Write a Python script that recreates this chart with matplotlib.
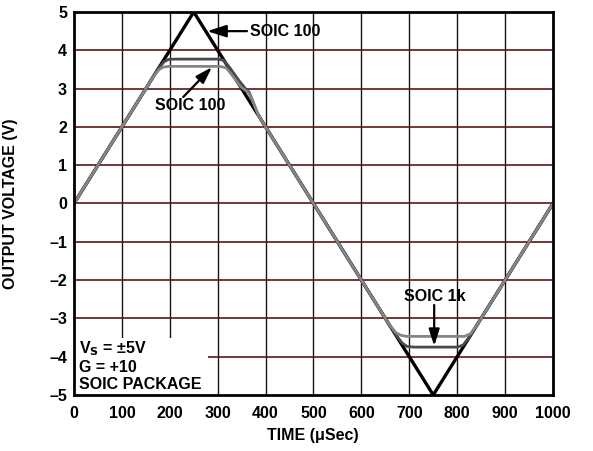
import matplotlib
matplotlib.use("Agg")
import matplotlib.pyplot as plt
from matplotlib.patches import Rectangle

plt.rcParams['font.family'] = ['Liberation Sans', 'DejaVu Sans']
plt.rcParams['font.weight'] = 'bold'

# Ideal (unclipped) triangle output
tri_t = [0, 250, 750, 1000]
tri_v = [0, 5, -5, 0]

# Output with heavier load: clips near +3.77 V / -3.75 V
soic_a_t = [0, 170, 180, 188, 197, 210, 300, 312, 325, 345, 358, 362, 366, 371, 385,
            615, 660, 675, 685, 695, 710, 800, 812, 825, 840, 852, 1000]
soic_a_v = [0, 3.40, 3.58, 3.70, 3.76, 3.77, 3.77, 3.74, 3.55, 3.20, 3.00, 2.95, 2.90, 2.74, 2.30,
            -2.30, -3.20, -3.48, -3.64, -3.73, -3.75, -3.75, -3.70, -3.50, -3.20, -2.96, 0]

# Output with lighter load: clips near +3.58 V / -3.47 V
soic_b_t = [0, 160, 170, 178, 186, 198, 305, 318, 330, 348, 358, 362, 366, 371, 385,
            615, 650, 662, 672, 682, 695, 815, 828, 840, 852, 1000]
soic_b_v = [0, 3.20, 3.38, 3.50, 3.56, 3.58, 3.58, 3.54, 3.35, 3.05, 2.95, 2.92, 2.86, 2.74, 2.30,
            -2.30, -3.00, -3.22, -3.37, -3.44, -3.47, -3.47, -3.40, -3.20, -2.96, 0]

x_ticks = [0, 100, 200, 300, 400, 500, 600, 700, 800, 900, 1000]
y_ticks = [5, 4, 3, 2, 1, 0, -1, -2, -3, -4, -5]

fig = plt.figure(figsize=(5.93, 4.51), dpi=100)
ax = fig.add_axes([0.1248, 0.1242, 0.8077, 0.8492])
ax.set_xlim(0, 1000)
ax.set_ylim(-5, 5)

# grid: black verticals, dark red horizontals
for x in x_ticks[1:-1]:
    ax.axvline(x, color='#1a1010', lw=1.0, zorder=1)
for y in y_ticks[1:-1]:
    ax.axhline(y, color='#5c1414', lw=1.2, zorder=1)

ax.plot(tri_t, tri_v, color='black', lw=2.4, zorder=3, solid_joinstyle='miter')
ax.plot(soic_a_t, soic_a_v, color='#4a4a4a', lw=2.0, zorder=4)
ax.plot(soic_b_t, soic_b_v, color='#858585', lw=2.0, zorder=4)

# condition legend box
ax.add_patch(Rectangle((0, -5), 280, 1.5, facecolor='white', edgecolor='none', zorder=2))
ax.text(10, -3.78, r'V$_\mathbf{S}$ = ±5V', fontsize=11.5, fontweight='bold', va='center', zorder=5)
ax.text(10, -4.27, 'G = +10', fontsize=11.5, fontweight='bold', va='center', zorder=5)
ax.text(10, -4.72, 'SOIC PACKAGE', fontsize=11.5, fontweight='bold', va='center', zorder=5)

arrow = dict(arrowstyle='-|>,head_length=1.0,head_width=0.32', color='black', lw=1.6,
             shrinkA=0, shrinkB=0)
ax.annotate('SOIC 100', xy=(278, 4.5), xytext=(367, 4.5), fontsize=11.5, fontweight='bold',
            va='center', ha='left', arrowprops=arrow, zorder=6)
ax.annotate('', xy=(288, 3.56), xytext=(228, 2.78), arrowprops=arrow, zorder=6)
ax.text(169, 2.55, 'SOIC 100', fontsize=11.5, fontweight='bold', va='center', ha='left', zorder=6)
ax.annotate('', xy=(752, -3.72), xytext=(752, -2.65), arrowprops=arrow, zorder=6)
ax.text(754, -2.44, 'SOIC 1k', fontsize=11.5, fontweight='bold', va='center', ha='center', zorder=6)

ax.set_xticks(x_ticks)
ax.set_yticks(y_ticks)
ax.set_xticklabels([str(v) for v in x_ticks], fontsize=11.5, fontweight='bold')
ax.set_yticklabels([str(v).replace('-', '\u2013') for v in y_ticks], fontsize=11.5, fontweight='bold')
ax.tick_params(axis='x', length=0, pad=8)
ax.tick_params(axis='y', length=0, pad=5)
for s in ax.spines.values():
    s.set_linewidth(2.0)
    s.set_zorder(7)

fig.text(0.528, 0.035, 'TIME (\u03bcSec)', fontsize=11.5, fontweight='bold', ha='center', va='center')
fig.text(0.017, 0.549, 'OUTPUT VOLTAGE (V)', fontsize=11.5, fontweight='bold', ha='center',
         va='center', rotation=90)

fig.savefig('out.png', dpi=100)
